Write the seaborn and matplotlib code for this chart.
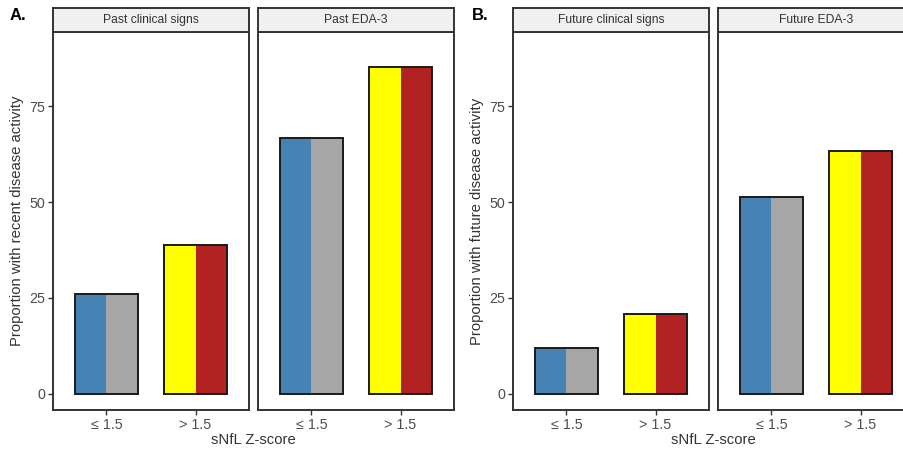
import numpy as np
import pandas as pd
import matplotlib
matplotlib.use("Agg")
import matplotlib.pyplot as plt
import seaborn as sns

sns.set_theme(style="white")
plt.rcParams['font.family'] = ['Liberation Sans', 'DejaVu Sans']

# sNfL Z-score groups and the proportion (%) with disease activity
zscore_groups = ["≤ 1.5", "> 1.5"]
past_clinical = [26.1, 38.9]
past_eda3 = [66.7, 85.2]
future_clinical = [11.9, 20.8]
future_eda3 = [51.2, 63.2]

facet_titles_past = ["Past clinical signs", "Past EDA-3"]
facet_titles_future = ["Future clinical signs", "Future EDA-3"]

# each bar is split into two coloured halves
left_half_colors = ["#4682B4", "#FFFF00"]
right_half_colors = ["#A6A6A6", "#B22222"]

W, H = 904, 455
fig = plt.figure(figsize=(W / 100, H / 100), dpi=100)
fig.patch.set_facecolor("white")

BORDER = "#333333"
TEXT = "#4d4d4d"


def px_axes(x0, y0, x1, y1):
    return fig.add_axes([x0 / W, (H - y1) / H, (x1 - x0) / W, (y1 - y0) / H])


def draw_panel(x0, x1, values, title, show_y):
    ax = px_axes(x0, 32, x1, 410)
    df = pd.DataFrame({
        "group": zscore_groups * 2,
        "half": ["left"] * 2 + ["right"] * 2,
        "value": list(values) * 2,
    })
    sns.barplot(data=df, x="group", y="value", hue="half", order=zscore_groups,
                hue_order=["left", "right"], width=0.7, gap=0, dodge=True,
                errorbar=None, legend=False, linewidth=0, ax=ax)
    for p in ax.patches:
        cx = p.get_x() + p.get_width() / 2
        gi = int(round(cx))
        is_left = cx < gi
        p.set_facecolor(left_half_colors[gi] if is_left else right_half_colors[gi])
        p.set_edgecolor("none")
    # black outline around each whole bar
    sns.barplot(x=zscore_groups, y=list(values), order=zscore_groups, width=0.7,
                fill=False, color="#1a1a1a", linewidth=1.4, errorbar=None, ax=ax)
    ax.set_xlim(-0.6, 1.6)
    ax.set_ylim(-4.2, 94.3)
    ax.set_xlabel("")
    ax.set_ylabel("")
    ax.set_yticks([0, 25, 50, 75])
    for s in ax.spines.values():
        s.set_visible(True)
        s.set_color(BORDER)
        s.set_linewidth(1.4)
    ax.tick_params(axis="x", length=3.6, width=1.0, color=BORDER, pad=2.5,
                   labelsize=10.3, labelcolor=TEXT, bottom=True)
    if show_y:
        ax.tick_params(axis="y", length=3.6, width=1.0, color=BORDER, pad=2.2,
                       labelsize=10.3, labelcolor=TEXT, left=True)
    else:
        ax.tick_params(axis="y", left=False, labelleft=False)
    ax.grid(False)

    strip = px_axes(x0, 8, x1, 32)
    strip.set_facecolor("#F0F0F0")
    strip.set_xticks([])
    strip.set_yticks([])
    for s in strip.spines.values():
        s.set_visible(True)
        s.set_color(BORDER)
        s.set_linewidth(1.4)
    strip.text(0.5, 0.5, title, ha="center", va="center", fontsize=8.7,
               color="#333333", transform=strip.transAxes)
    return ax


draw_panel(53, 249, past_clinical, facet_titles_past[0], True)
draw_panel(258, 454, past_eda3, facet_titles_past[1], False)
draw_panel(513, 709, future_clinical, facet_titles_future[0], True)
draw_panel(718, 914, future_eda3, facet_titles_future[1], False)

fig.text(253 / W, 1 - 440 / H, "sNfL Z-score", ha="center", va="center",
         fontsize=10.7, color="#333333")
fig.text(713 / W, 1 - 440 / H, "sNfL Z-score", ha="center", va="center",
         fontsize=10.7, color="#333333")
fig.text(17 / W, 1 - 221 / H, "Proportion with recent disease activity",
         rotation=90, ha="center", va="center", fontsize=10.7, color="#333333")
fig.text(477 / W, 1 - 221 / H, "Proportion with future disease activity",
         rotation=90, ha="center", va="center", fontsize=10.7, color="#333333")
fig.text(10 / W, 1 - 15 / H, "A.", ha="left", va="center", fontsize=12,
         fontweight="bold", color="black")
fig.text(472 / W, 1 - 15 / H, "B.", ha="left", va="center", fontsize=12,
         fontweight="bold", color="black")

fig.savefig("out.png", dpi=100, facecolor="white")
